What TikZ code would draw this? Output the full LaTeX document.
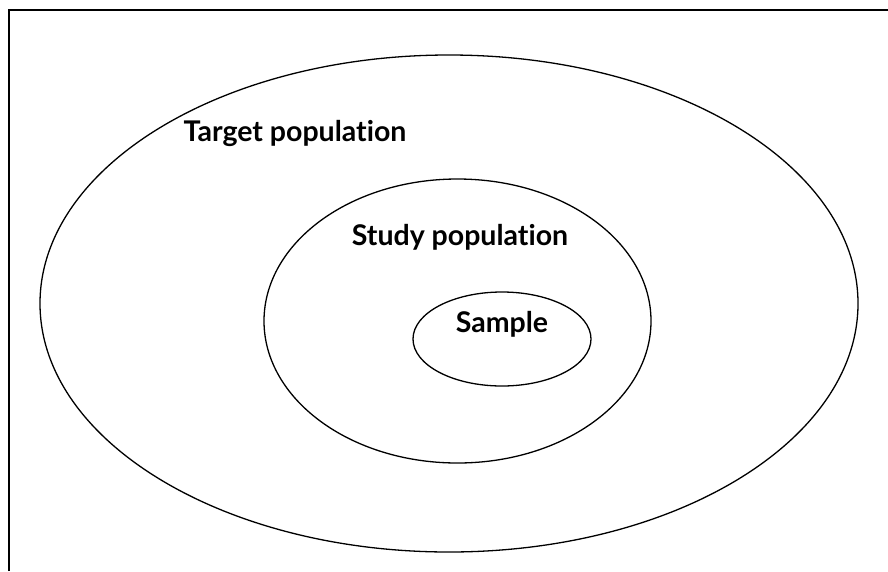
\documentclass[tikz,border=0pt]{standalone}
\usepackage{fontspec}
\setmainfont[Ligatures=NoCommon]{Lato}
\usetikzlibrary{calc}
\tikzset{
  ring/.style={line width=1.3pt},
  lbl/.style={font=\bfseries\fontsize{28.5}{32}\selectfont, inner sep=0pt}
}

\begin{document}
\begin{tikzpicture}[x=1pt, y=-1pt]
\useasboundingbox (0,0) rectangle (888,571);

\draw[line width=2pt] (9,571) -- (9,10) -- (888,10);

\draw[ring] (449,303.5) ellipse (409 and 248.5);
\draw[ring] (457.5,321) ellipse (193.5 and 142);
\draw[ring] (502,339) ellipse (89 and 47);

\node[lbl] (target) at (295,133) {Target population};
\node[lbl] (study) at (460,237) {Study population};
\node[lbl] (sample) at (502,324) {Sample};

\end{tikzpicture}
\end{document}
